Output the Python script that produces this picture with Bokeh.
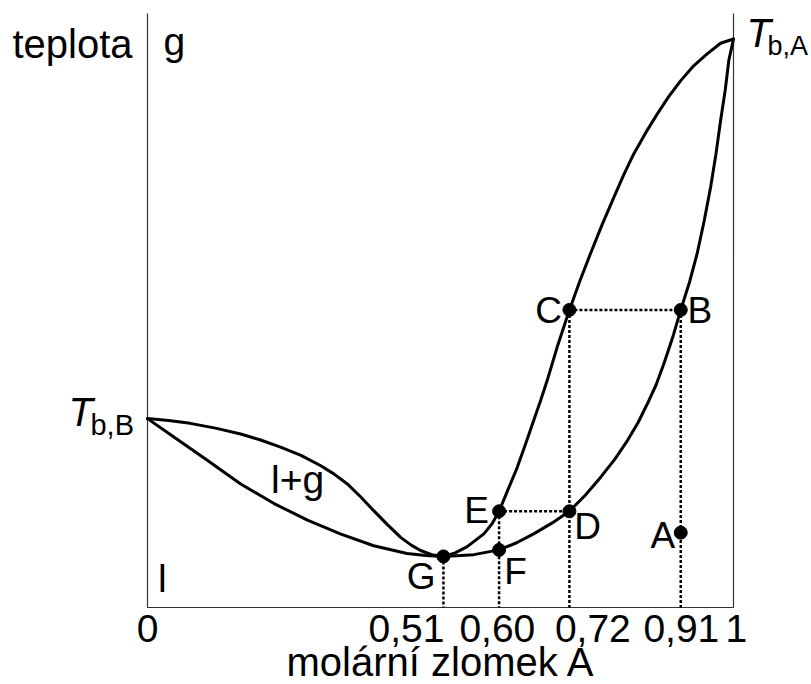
from bokeh.plotting import figure
from bokeh.models import Range1d
from bokeh.embed import file_html
from bokeh.resources import INLINE
from bokeh.core.properties import value

# ---------------- data (x = mole fraction of A, y = temperature, arbitrary units) ----------------
left_upper_x = [0.0, 0.036, 0.073, 0.116, 0.159, 0.193, 0.227, 0.262, 0.295, 0.318, 0.341,
                0.364, 0.386, 0.409, 0.432, 0.450, 0.466, 0.485, 0.505]
left_upper_y = [31.8, 31.5, 31.0, 30.2, 29.2, 28.2, 27.0, 25.6, 23.9, 22.5, 20.8,
                18.6, 16.3, 14.0, 11.8, 10.5, 9.6, 8.9, 8.6]
left_lower_x = [0.0, 0.045, 0.102, 0.159, 0.216, 0.273, 0.329, 0.386, 0.443, 0.475, 0.505]
left_lower_y = [31.8, 28.7, 24.8, 20.8, 17.5, 14.7, 12.4, 10.4, 9.1, 8.75, 8.6]
right_upper_x = [0.505, 0.525, 0.545, 0.574, 0.588, 0.60, 0.615, 0.631, 0.645, 0.659, 0.671,
                 0.682, 0.699, 0.72, 0.738, 0.756, 0.776, 0.796, 0.813, 0.830, 0.850, 0.870,
                 0.890, 0.910, 0.932, 0.955, 0.978, 1.0]
right_upper_y = [8.6, 9.2, 10.2, 12.4, 14.1, 16.2, 19.8, 23.6, 27.5, 31.5, 34.9,
                 38.2, 43.8, 50.1, 55.0, 59.6, 64.5, 69.1, 72.9, 76.4, 79.9, 83.1,
                 86.1, 88.7, 91.2, 93.2, 95.0, 95.7]
right_lower_x = [0.505, 0.557, 0.60, 0.630, 0.659, 0.690, 0.72, 0.747, 0.773, 0.797, 0.819,
                 0.837, 0.853, 0.868, 0.881, 0.896, 0.91, 0.925, 0.938, 0.950, 0.961, 0.970,
                 0.978, 0.986, 0.992, 1.0]
right_lower_y = [8.6, 8.9, 9.7, 10.9, 12.4, 14.2, 16.2, 18.9, 21.9, 24.9, 28.1,
                 31.1, 34.3, 37.5, 41.0, 45.4, 50.1, 54.8, 59.6, 65.1, 70.8, 76.3,
                 82.0, 87.2, 92.1, 95.7]

point_names = ["A", "B", "C", "D", "E", "F", "G"]
point_x = [0.91, 0.91, 0.72, 0.72, 0.60, 0.60, 0.505]
point_y = [12.6, 50.1, 50.1, 16.2, 16.2, 9.7, 8.6]

tick_labels = ["0", "0,51", "0,60", "0,72", "0,91", "1"]
region_labels = ["g", "l", "l+g"]
x_title = "molární zlomek A"
y_title = "teplota"

# ---------------- layout / label placement ----------------
X0, X1, Y0, Y1 = 0.0, 1.0, 0.0, 100.0          # axis frame (data units)
PX_X = 586.0                                    # px per x unit
PX_Y = 5.94                                     # px per y unit

point_label_x = [0.8584, 0.9215, 0.6616, 0.7282, 0.5404, 0.6087, 0.4425]
point_label_y = [9.88, 47.76, 47.76, 11.28, 14.09, 3.70, 2.86]
region_label_x = [0.0273, 0.018, 0.2108]
region_label_y = [92.9, 2.53, 19.14]
tick_label_x = [0.0, 0.442, 0.597, 0.760, 0.911, 1.005]
tick_label_y = -6.01

FONT = "Liberation Sans"


def fix(y, size_px):
    # compensate the renderer's alphabetic-baseline offset
    return y + 0.37 * size_px / PX_Y


p = figure(width=811, height=684, output_backend="svg", toolbar_location=None,
           x_axis_type=None, y_axis_type=None,
           x_range=Range1d(X0 - 147 / PX_X, X1 + 78 / PX_X),
           y_range=Range1d(Y0 - 77 / PX_Y, Y1 + 13 / PX_Y),
           min_border_left=0, min_border_right=0, min_border_top=0, min_border_bottom=0)
p.outline_line_color = None
p.background_fill_color = "white"
p.border_fill_color = "white"

# axis frame: left, bottom, right (no top)
p.line([X0, X0, X1, X1], [Y1, Y0, Y0, Y1], line_color="#333333", line_width=1.2)

# dotted construction lines
p.segment(x0=[point_x[2], point_x[4]], y0=[point_y[2], point_y[4]],
          x1=[point_x[1], point_x[3]], y1=[point_y[1], point_y[3]],
          line_color="black", line_width=2.5, line_dash="3 2")
v_idx = [1, 2, 4, 6]
p.segment(x0=[point_x[i] for i in v_idx], y0=[point_y[i] for i in v_idx],
          x1=[point_x[i] for i in v_idx], y1=[Y0 for i in v_idx],
          line_color="black", line_width=2.5, line_dash="3 2")

# phase boundary curves
for xs, ys in [(left_upper_x, left_upper_y), (left_lower_x, left_lower_y),
               (right_upper_x, right_upper_y), (right_lower_x, right_lower_y)]:
    p.line(xs, ys, line_color="black", line_width=3, line_join="round", line_cap="round")

# points
p.scatter(point_x, point_y, size=13, fill_color="black", line_color="black")


def txt(xs, ys, texts, size, style="normal", align="left"):
    p.text(xs, [fix(y, size) for y in ys], text=texts, text_font=value(FONT),
           text_font_size=value(f"{size}px"), text_font_style=value(style),
           text_baseline=value("alphabetic"), text_align=value(align), text_color="black")


txt(point_label_x, point_label_y, point_names, 37)
txt(region_label_x, region_label_y, region_labels, 39)
txt(tick_label_x, [tick_label_y] * len(tick_labels), tick_labels, 39, align="center")
txt([0.5009], [-11.7], [x_title], 40, align="center")
txt([-0.2304], [92.42], [y_title], 40)
txt([-0.1348], [30.35], ["T"], 40, style="italic")
txt([-0.0973], [28.96], ["b,B"], 29)
txt([1.0222], [94.28], ["T"], 40, style="italic")
txt([1.0580], [92.93], ["b,A"], 27)

open("out.html", "w").write(file_html(p, INLINE))
